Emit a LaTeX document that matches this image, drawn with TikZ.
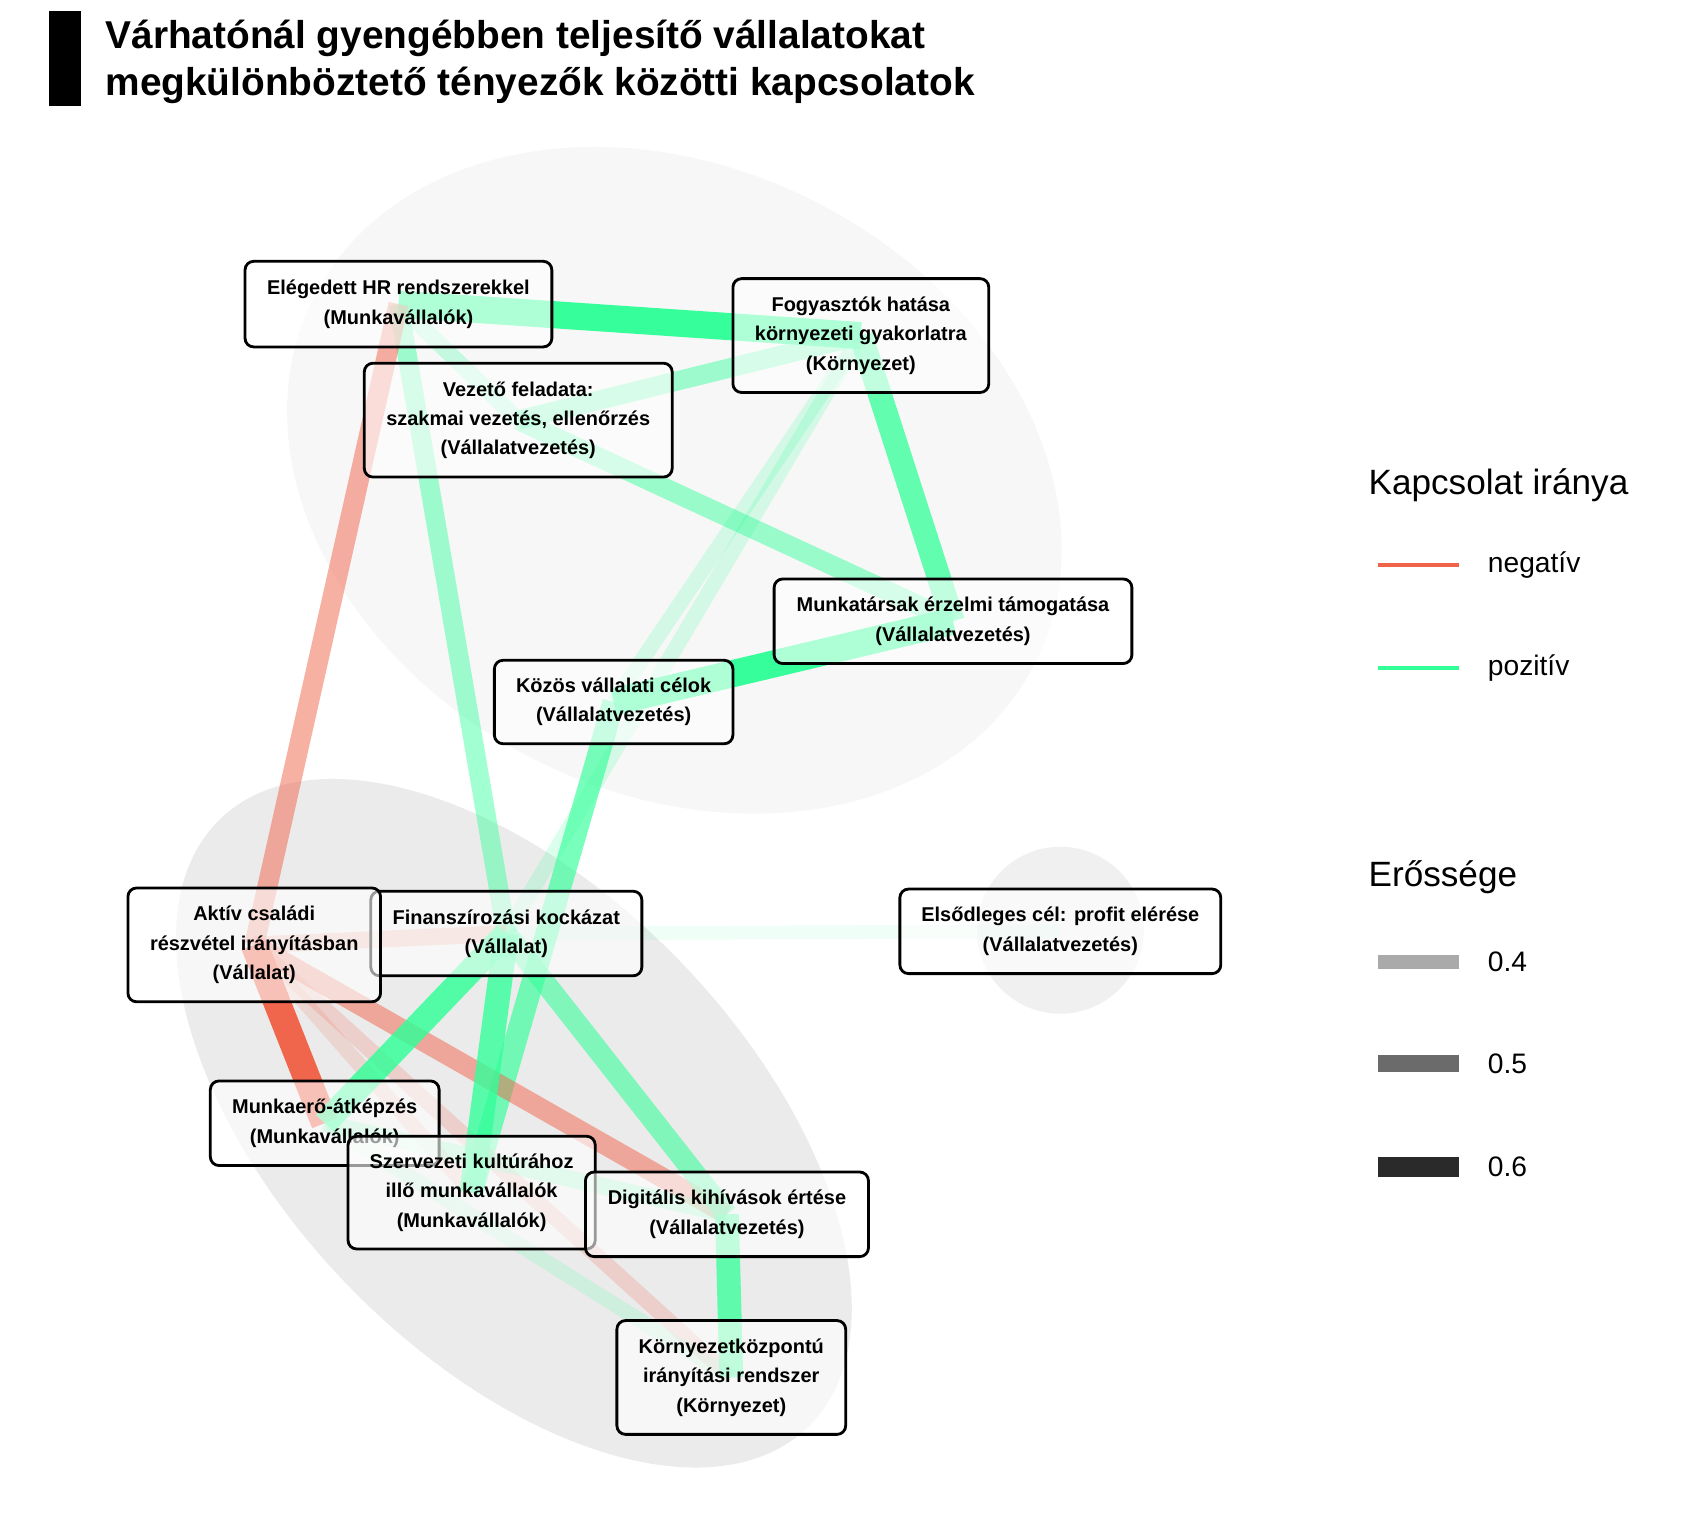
\documentclass[tikz,border=0pt]{standalone}
\usepackage{fontspec}
\setmainfont{Liberation Sans}
\pgfdeclarelayer{hull}
\pgfdeclarelayer{edges}
\pgfsetlayers{hull,edges,main}
\definecolor{posc}{RGB}{51,255,153}
\definecolor{negc}{RGB}{240,100,74}
\definecolor{hullA}{RGB}{247,247,247}
\definecolor{hullB}{RGB}{235,235,235}
\definecolor{hullC}{RGB}{240,240,240}
\definecolor{barA}{RGB}{170,170,170}
\definecolor{barB}{RGB}{107,107,107}
\definecolor{barC}{RGB}{42,42,42}
\tikzset{
  lab/.style={draw=black, line width=1.3pt, rounded corners=4pt, fill=white,
    fill opacity=0.6, text opacity=1, align=center, inner sep=0pt,
    font=\fontsize{9.2}{13.5}\selectfont\bfseries},
  ttl/.style={anchor=base west, inner sep=0pt, font=\fontsize{17.9}{21}\selectfont\bfseries},
  lgt/.style={anchor=base west, inner sep=0pt, font=\fontsize{16.2}{19}\selectfont},
  lgl/.style={anchor=base west, inner sep=0pt, font=\fontsize{13}{15}\selectfont},
}
\newcommand\drawlink[4]{%
  \pgfmathsetmacro\lkop{max(0.05,min(1,0.33+(#2-0.4)*2.5))}%
  \pgfmathsetmacro\lkw{(13+(#2-0.4)*27.5)*0.62}%
  \draw[draw=#1, draw opacity=\lkop, line width=\lkw pt] (#3.center) -- (#4.center);}
\begin{document}
\begin{tikzpicture}[x=0.5pt, y=-0.5pt]
\useasboundingbox (0,0) rectangle (1568,1420);
% hulls
\begin{pgfonlayer}{hull}
\fill[hullA, rotate around={-27:(622,443)}] (622,443) ellipse [x radius=373, y radius=288];
\fill[hullB, rotate around={-46:(474,1036)}] (474,1036) ellipse [x radius=390, y radius=214];
\fill[hullC] (978,858) circle [radius=77];
\end{pgfonlayer}
% title
\fill (45,10) rectangle (75,98);
\node[ttl] (t1) at (97,45) {Várhatónál gyengébben teljesítő vállalatokat};
\node[ttl] (t2) at (97,88) {megkülönböztető tényezők közötti kapcsolatok};
% nodes
\node[lab, minimum width=141.5pt, minimum height=39.5pt] (hr) at (367.5,280.5) {Elégedett HR rendszerekkel\\(Munkavállalók)};
\node[lab, minimum width=118pt, minimum height=52.5pt] (fogy) at (794,309.5) {Fogyasztók hatása\\környezeti gyakorlatra\\(Környezet)};
\node[lab, minimum width=142pt, minimum height=52.5pt] (vez) at (478,387.5) {Vezető feladata:\\szakmai vezetés, ellenőrzés\\(Vállalatvezetés)};
\node[lab, minimum width=165pt, minimum height=39pt] (mt) at (879,573) {Munkatársak érzelmi támogatása\\(Vállalatvezetés)};
\node[lab, minimum width=110pt, minimum height=38.5pt] (kozos) at (566,647.5) {Közös vállalati célok\\(Vállalatvezetés)};
\node[lab, minimum width=125pt, minimum height=39pt] (fin) at (467,861) {Finanszírozási kockázat\\(Vállalat)};
\node[lab, minimum width=116.5pt, minimum height=52.5pt] (aktiv) at (234.5,871.5) {Aktív családi\\részvétel irányításban\\(Vállalat)};
\node[lab, minimum width=148pt, minimum height=39pt] (elso) at (978,859) {Elsődleges cél: profit elérése\\(Vállalatvezetés)};
\node[lab, minimum width=105.5pt, minimum height=39pt] (mae) at (299.5,1036) {Munkaerő-átképzés\\(Munkavállalók)};
\node[lab, minimum width=114pt, minimum height=52pt] (szerv) at (435,1100) {Szervezeti kultúrához\\illő munkavállalók\\(Munkavállalók)};
\node[lab, minimum width=130.5pt, minimum height=39pt] (dig) at (670.5,1120) {Digitális kihívások értése\\(Vállalatvezetés)};
\node[lab, minimum width=105.5pt, minimum height=52.5pt] (korny) at (674.5,1270.5) {Környezetközpontú\\irányítási rendszer\\(Környezet)};
% edges
\begin{pgfonlayer}{edges}
\drawlink{posc}{0.66}{hr}{fogy}
\drawlink{posc}{0.37}{hr}{vez}
\drawlink{posc}{0.45}{hr}{fin}
\drawlink{negc}{0.47}{hr}{aktiv}
\drawlink{posc}{0.45}{vez}{fogy}
\drawlink{posc}{0.46}{vez}{mt}
\drawlink{posc}{0.57}{fogy}{mt}
\drawlink{posc}{0.34}{fogy}{kozos}
\drawlink{posc}{0.34}{fogy}{fin}
\drawlink{posc}{0.66}{kozos}{mt}
\drawlink{posc}{0.53}{kozos}{szerv}
\drawlink{negc}{0.38}{aktiv}{fin}
\drawlink{negc}{0.66}{aktiv}{mae}
\drawlink{negc}{0.47}{aktiv}{dig}
\drawlink{negc}{0.35}{aktiv}{korny}
\drawlink{negc}{0.33}{aktiv}{szerv}
\drawlink{posc}{0.6}{fin}{mae}
\drawlink{posc}{0.59}{fin}{szerv}
\drawlink{posc}{0.5}{fin}{dig}
\drawlink{posc}{0.3}{fin}{elso}
\drawlink{posc}{0.57}{dig}{korny}
\drawlink{posc}{0.38}{mae}{dig}
\drawlink{posc}{0.33}{mae}{korny}
\end{pgfonlayer}
% legend
\node[lgt] (lt1) at (1262,456) {Kapcsolat iránya};
\coordinate (na) at (1271,521); \coordinate (nb) at (1346,521);
\draw[negc, line width=1.85pt] (na) -- (nb);
\node[lgl] (ln) at (1372,528) {negatív};
\coordinate (pa) at (1271,616); \coordinate (pb) at (1346,616);
\draw[posc, line width=1.85pt] (pa) -- (pb);
\node[lgl] (lp) at (1372,623) {pozitív};
\node[lgt] (lt2) at (1262,818) {Erőssége};
\coordinate (a4) at (1271,887); \coordinate (b4) at (1346,887);
\draw[barA, line width=6.5pt] (a4) -- (b4);
\node[lgl] (l4) at (1372,896) {0.4};
\coordinate (a5) at (1271,981); \coordinate (b5) at (1346,981);
\draw[barB, line width=7.7pt] (a5) -- (b5);
\node[lgl] (l5) at (1372,990) {0.5};
\coordinate (a6) at (1271,1076); \coordinate (b6) at (1346,1076);
\draw[barC, line width=9.25pt] (a6) -- (b6);
\node[lgl] (l6) at (1372,1085) {0.6};
\end{tikzpicture}
\end{document}
